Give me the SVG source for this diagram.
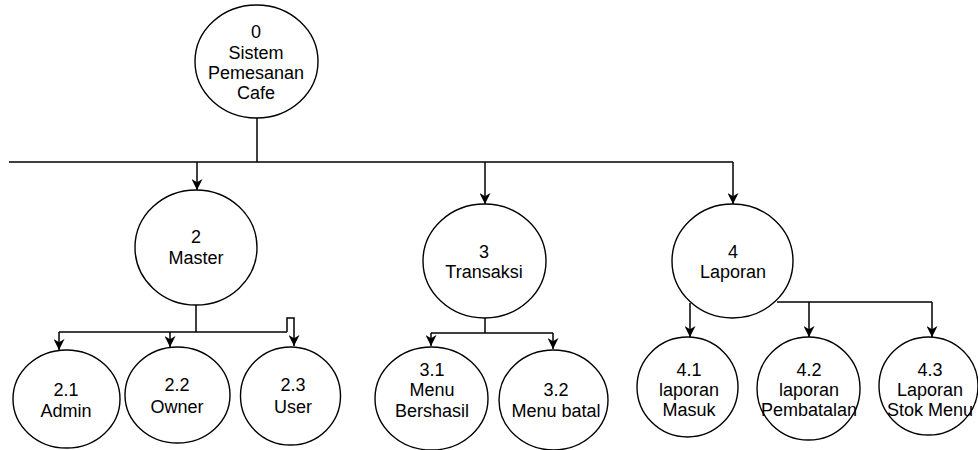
<svg xmlns="http://www.w3.org/2000/svg" width="978" height="450" viewBox="0 0 978 450">
  <style>
    .bubble { fill: #ffffff; stroke: #000000; stroke-width: 1.4; }
    .label { font-family: "Liberation Sans", Arial, sans-serif; font-size: 18px; fill: #000000; text-anchor: middle; }
    .flow { fill: none; stroke: #000000; stroke-width: 1.5; }
    .arrow { marker-end: url(#head); }
  </style>
  <defs>
    <marker id="head" viewBox="0 0 10 10" refX="10" refY="5" markerWidth="11" markerHeight="11" markerUnits="userSpaceOnUse" orient="auto">
      <path d="M0,0 L10,5 L0,10 L3,5 z" fill="#000000"/>
    </marker>
  </defs>
  <rect width="978" height="450" fill="#ffffff"/>

  <!-- connectors -->
  <g id="connectors">
    <path class="flow" d="M257,118 V162"/>
    <path class="flow" d="M9,162 H733"/>
    <path class="flow arrow" d="M197,162 V190"/>
    <path class="flow arrow" d="M485,162 V204"/>
    <path class="flow arrow" d="M733,162 V204"/>

    <path class="flow" d="M196,305 V332"/>
    <path class="flow" d="M59,332 H287"/>
    <path class="flow arrow" d="M59,332 V350"/>
    <path class="flow arrow" d="M170,332 V347"/>
    <path class="flow arrow" d="M287,332 V318 H294 V346"/>

    <path class="flow" d="M485,318 V333"/>
    <path class="flow" d="M431,333 H553"/>
    <path class="flow arrow" d="M431,333 V346"/>
    <path class="flow arrow" d="M553,333 V349"/>

    <path class="flow arrow" d="M690,303 V337"/>
    <path class="flow" d="M777,302 H932"/>
    <path class="flow arrow" d="M809,302 V337"/>
    <path class="flow arrow" d="M932,302 V337"/>
  </g>

  <!-- level 0 -->
  <g id="node-0">
    <ellipse class="bubble" cx="256.5" cy="61.5" rx="61.5" ry="56.5"/>
    <text class="label" x="256" y="38">0</text>
    <text class="label" x="256" y="59">Sistem</text>
    <text class="label" x="256" y="79">Pemesanan</text>
    <text class="label" x="256" y="99">Cafe</text>
  </g>

  <!-- level 1 -->
  <g id="node-2">
    <ellipse class="bubble" cx="196" cy="247.5" rx="61" ry="57.5"/>
    <text class="label" x="196" y="243">2</text>
    <text class="label" x="196" y="264">Master</text>
  </g>
  <g id="node-3">
    <ellipse class="bubble" cx="484.5" cy="261" rx="61.5" ry="57"/>
    <text class="label" x="484" y="258">3</text>
    <text class="label" x="484" y="278">Transaksi</text>
  </g>
  <g id="node-4">
    <ellipse class="bubble" cx="732.5" cy="261" rx="60.5" ry="57"/>
    <text class="label" x="733" y="258">4</text>
    <text class="label" x="733" y="278">Laporan</text>
  </g>

  <!-- level 2: master -->
  <g id="node-2-1">
    <ellipse class="bubble" cx="66.5" cy="399" rx="53.5" ry="49"/>
    <text class="label" x="66" y="396">2.1</text>
    <text class="label" x="66" y="417">Admin</text>
  </g>
  <g id="node-2-2">
    <ellipse class="bubble" cx="177.5" cy="395" rx="52.5" ry="48"/>
    <text class="label" x="177" y="391">2.2</text>
    <text class="label" x="177" y="413">Owner</text>
  </g>
  <g id="node-2-3">
    <ellipse class="bubble" cx="290.5" cy="396" rx="50" ry="49"/>
    <text class="label" x="293" y="391">2.3</text>
    <text class="label" x="293" y="413">User</text>
  </g>

  <!-- level 2: transaksi -->
  <g id="node-3-1">
    <ellipse class="bubble" cx="431.5" cy="398.5" rx="56.5" ry="51.5"/>
    <text class="label" x="432" y="376">3.1</text>
    <text class="label" x="432" y="396">Menu</text>
    <text class="label" x="432" y="417">Bershasil</text>
  </g>
  <g id="node-3-2">
    <ellipse class="bubble" cx="553.5" cy="400" rx="54.5" ry="50"/>
    <text class="label" x="556" y="396">3.2</text>
    <text class="label" x="556" y="417">Menu batal</text>
  </g>

  <!-- level 2: laporan -->
  <g id="node-4-1">
    <ellipse class="bubble" cx="687.5" cy="387" rx="50.5" ry="50"/>
    <text class="label" x="689" y="376">4.1</text>
    <text class="label" x="689" y="396">laporan</text>
    <text class="label" x="689" y="416">Masuk</text>
  </g>
  <g id="node-4-2">
    <ellipse class="bubble" cx="808.5" cy="388.5" rx="51.5" ry="51.5"/>
    <text class="label" x="809" y="376">4.2</text>
    <text class="label" x="809" y="396">laporan</text>
    <text class="label" x="809" y="416">Pembatalan</text>
  </g>
  <g id="node-4-3">
    <ellipse class="bubble" cx="928.5" cy="386" rx="49.5" ry="49"/>
    <text class="label" x="930" y="376">4.3</text>
    <text class="label" x="930" y="396">Laporan</text>
    <text class="label" x="930" y="416">Stok Menu</text>
  </g>
</svg>
